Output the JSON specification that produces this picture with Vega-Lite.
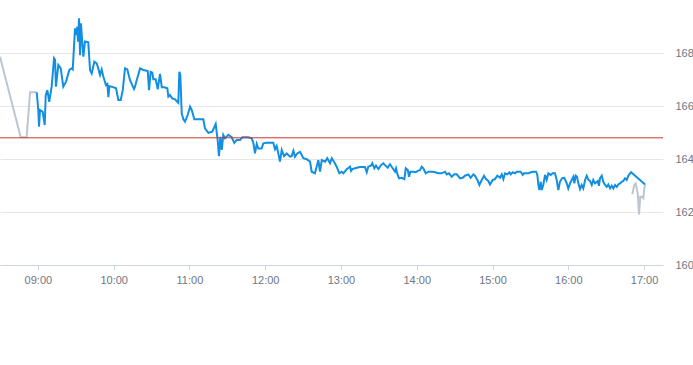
{
  "$schema": "https://vega.github.io/schema/vega-lite/v6.json",
  "width": 663,
  "height": 265,
  "autosize": "none",
  "padding": {"left": 0, "top": 0, "right": 30, "bottom": 100},
  "config": {
    "view": {"stroke": null},
    "font": "Liberation Sans",
    "axis": {"labelFont": "Liberation Sans", "labelFontSize": 11, "labelColor": "#6e7681", "title": null}
  },
  "datasets": {
    "pre": [
      {"m":510,"v":167.86},{"m":526.4,"v":164.82},{"m":531.1,"v":164.82},{"m":533.8,"v":166.52},{"m":539.1,"v":166.52}
    ],
    "post": [
      {"m":1010.7,"v":162.67},{"m":1012.3,"v":163.02},{"m":1013.4,"v":163.08},{"m":1015.0,"v":162.7},{"m":1016.0,"v":161.91},{"m":1017.0,"v":162.58},{"m":1018.2,"v":162.58},{"m":1019.4,"v":162.52},{"m":1020.2,"v":162.89},{"m":1020.8,"v":163.04}
    ],
    "main": [
      {"m":539.1,"v":166.52},{"m":540.3,"v":165.85},{"m":540.9,"v":165.22},{"m":541.7,"v":165.85},{"m":543.8,"v":165.78},{"m":545.4,"v":165.28},{"m":546.2,"v":166.41},{"m":547.5,"v":166.6},{"m":549.0,"v":166.16},{"m":550.9,"v":166.73},{"m":552.8,"v":167.8},{"m":553.6,"v":167.74},{"m":554.3,"v":166.73},{"m":556.2,"v":167.55},{"m":558.1,"v":167.42},{"m":560.1,"v":166.73},{"m":562.3,"v":166.92},{"m":564.9,"v":167.36},{"m":566.8,"v":167.42},{"m":567.6,"v":167.38},{"m":569.4,"v":168.93},{"m":570.2,"v":168.68},{"m":571.2,"v":168.99},{"m":571.8,"v":168.43},{"m":572.6,"v":169.31},{"m":573.4,"v":167.92},{"m":574.1,"v":169.12},{"m":575.2,"v":168.37},{"m":576.0,"v":167.86},{"m":577.3,"v":168.43},{"m":579.9,"v":168.4},{"m":581.3,"v":167.36},{"m":582.6,"v":167.23},{"m":584.7,"v":167.67},{"m":586.6,"v":167.61},{"m":587.8,"v":167.42},{"m":589.2,"v":167.17},{"m":590.5,"v":167.38},{"m":591.8,"v":167.11},{"m":593.9,"v":166.79},{"m":595.0,"v":166.83},{"m":595.8,"v":166.33},{"m":596.6,"v":166.75},{"m":598.5,"v":166.73},{"m":601.9,"v":166.67},{"m":603.7,"v":166.23},{"m":605.6,"v":166.23},{"m":607.2,"v":166.6},{"m":609.0,"v":167.42},{"m":610.8,"v":167.38},{"m":612.9,"v":166.98},{"m":616.1,"v":166.64},{"m":616.9,"v":166.73},{"m":618.3,"v":166.98},{"m":620.9,"v":167.42},{"m":623.5,"v":167.36},{"m":627.0,"v":167.32},{"m":628.0,"v":166.6},{"m":629.3,"v":167.29},{"m":630.6,"v":167.26},{"m":631.4,"v":167.01},{"m":633.3,"v":167.01},{"m":634.9,"v":166.63},{"m":636.7,"v":167.21},{"m":638.1,"v":166.71},{"m":640.1,"v":166.71},{"m":642.5,"v":166.67},{"m":643.3,"v":166.35},{"m":644.6,"v":166.41},{"m":646.4,"v":166.29},{"m":648.6,"v":166.25},{"m":650.4,"v":166.16},{"m":651.2,"v":166.12},{"m":652.0,"v":167.29},{"m":652.8,"v":167.17},{"m":653.9,"v":165.72},{"m":655.2,"v":165.5},{"m":656.5,"v":165.41},{"m":658.6,"v":165.66},{"m":660.5,"v":165.97},{"m":661.8,"v":165.85},{"m":663.9,"v":165.5},{"m":667.0,"v":165.5},{"m":671.0,"v":165.5},{"m":672.3,"v":165.16},{"m":675.0,"v":164.99},{"m":678.1,"v":165.03},{"m":680.8,"v":165.32},{"m":682.4,"v":164.69},{"m":683.4,"v":164.11},{"m":684.5,"v":164.84},{"m":685.6,"v":164.34},{"m":686.8,"v":164.91},{"m":688.2,"v":164.78},{"m":690.8,"v":164.91},{"m":693.5,"v":164.82},{"m":695.5,"v":164.61},{"m":697.4,"v":164.72},{"m":700.1,"v":164.72},{"m":701.9,"v":164.82},{"m":704.0,"v":164.82},{"m":706.6,"v":164.82},{"m":709.3,"v":164.78},{"m":710.6,"v":164.61},{"m":711.9,"v":164.21},{"m":713.3,"v":164.57},{"m":714.5,"v":164.4},{"m":717.2,"v":164.4},{"m":718.5,"v":164.59},{"m":721.2,"v":164.61},{"m":726.4,"v":164.61},{"m":727.8,"v":164.37},{"m":729.1,"v":164.49},{"m":730.4,"v":164.21},{"m":731.7,"v":163.9},{"m":733.1,"v":164.34},{"m":734.9,"v":164.11},{"m":737.0,"v":164.21},{"m":739.7,"v":164.09},{"m":741.0,"v":164.11},{"m":742.3,"v":164.31},{"m":743.6,"v":164.09},{"m":745.4,"v":164.21},{"m":747.6,"v":164.27},{"m":748.9,"v":164.15},{"m":750.2,"v":164.03},{"m":752.9,"v":163.99},{"m":755.5,"v":163.9},{"m":756.8,"v":163.52},{"m":759.4,"v":163.46},{"m":762.1,"v":163.96},{"m":763.4,"v":163.52},{"m":764.8,"v":163.96},{"m":767.4,"v":163.9},{"m":769.2,"v":164.03},{"m":771.3,"v":163.84},{"m":772.7,"v":164.03},{"m":774.5,"v":163.9},{"m":776.6,"v":163.71},{"m":778.7,"v":163.46},{"m":780.6,"v":163.52},{"m":781.9,"v":163.46},{"m":784.5,"v":163.61},{"m":787.2,"v":163.71},{"m":788.0,"v":163.55},{"m":789.0,"v":163.62},{"m":792.5,"v":163.67},{"m":795.1,"v":163.7},{"m":799.0,"v":163.7},{"m":800.4,"v":163.5},{"m":801.6,"v":163.71},{"m":803.8,"v":163.75},{"m":804.8,"v":163.84},{"m":806.4,"v":163.65},{"m":807.7,"v":163.75},{"m":809.6,"v":163.62},{"m":811.7,"v":163.77},{"m":813.5,"v":163.84},{"m":814.9,"v":163.77},{"m":817.0,"v":163.67},{"m":818.8,"v":163.8},{"m":820.7,"v":163.67},{"m":822.8,"v":163.52},{"m":823.6,"v":163.65},{"m":824.9,"v":163.4},{"m":826.0,"v":163.27},{"m":828.1,"v":163.29},{"m":830.2,"v":163.24},{"m":831.3,"v":163.65},{"m":832.9,"v":163.58},{"m":833.9,"v":163.33},{"m":834.9,"v":163.52},{"m":837.3,"v":163.52},{"m":839.2,"v":163.5},{"m":840.8,"v":163.55},{"m":842.6,"v":163.58},{"m":843.9,"v":163.71},{"m":845.2,"v":163.65},{"m":847.1,"v":163.46},{"m":849.2,"v":163.52},{"m":852.3,"v":163.52},{"m":854.5,"v":163.5},{"m":857.1,"v":163.46},{"m":859.8,"v":163.46},{"m":862.4,"v":163.52},{"m":863.7,"v":163.42},{"m":865.6,"v":163.46},{"m":867.7,"v":163.33},{"m":869.8,"v":163.42},{"m":871.7,"v":163.42},{"m":874.3,"v":163.27},{"m":876.4,"v":163.29},{"m":878.2,"v":163.37},{"m":880.9,"v":163.42},{"m":882.7,"v":163.29},{"m":884.8,"v":163.42},{"m":886.1,"v":163.37},{"m":888.0,"v":163.21},{"m":889.6,"v":163.02},{"m":891.5,"v":163.21},{"m":893.3,"v":163.37},{"m":894.9,"v":163.24},{"m":896.7,"v":163.17},{"m":898.0,"v":163.04},{"m":900.2,"v":163.21},{"m":902.0,"v":163.24},{"m":903.8,"v":163.37},{"m":906.0,"v":163.29},{"m":907.3,"v":163.42},{"m":908.6,"v":163.24},{"m":909.9,"v":163.46},{"m":911.7,"v":163.42},{"m":913.3,"v":163.5},{"m":914.4,"v":163.42},{"m":916.0,"v":163.5},{"m":917.8,"v":163.46},{"m":919.2,"v":163.52},{"m":922.3,"v":163.52},{"m":923.9,"v":163.4},{"m":924.9,"v":163.46},{"m":928.4,"v":163.46},{"m":930.3,"v":163.5},{"m":932.3,"v":163.52},{"m":934.5,"v":163.52},{"m":935.5,"v":163.4},{"m":936.3,"v":163.02},{"m":937.1,"v":162.83},{"m":938.2,"v":163.14},{"m":939.0,"v":162.83},{"m":940.2,"v":163.02},{"m":941.6,"v":163.4},{"m":942.9,"v":163.21},{"m":944.2,"v":163.46},{"m":946.1,"v":163.4},{"m":947.7,"v":163.46},{"m":949.5,"v":163.46},{"m":950.8,"v":163.21},{"m":952.1,"v":162.83},{"m":953.4,"v":163.14},{"m":955.1,"v":163.28},{"m":956.9,"v":163.29},{"m":958.8,"v":163.08},{"m":960.0,"v":162.89},{"m":961.4,"v":163.08},{"m":962.7,"v":163.21},{"m":964.0,"v":163.33},{"m":964.8,"v":163.08},{"m":965.9,"v":163.37},{"m":966.9,"v":163.33},{"m":968.0,"v":163.08},{"m":969.3,"v":162.86},{"m":970.6,"v":163.02},{"m":971.9,"v":162.89},{"m":973.3,"v":163.21},{"m":974.6,"v":163.37},{"m":975.9,"v":163.21},{"m":977.2,"v":163.17},{"m":978.6,"v":163.02},{"m":979.8,"v":163.21},{"m":981.2,"v":163.08},{"m":983.3,"v":163.17},{"m":984.3,"v":162.99},{"m":985.1,"v":163.27},{"m":986.5,"v":163.37},{"m":987.7,"v":163.14},{"m":989.1,"v":163.02},{"m":990.4,"v":162.95},{"m":991.7,"v":163.04},{"m":993.1,"v":162.89},{"m":994.4,"v":162.99},{"m":995.7,"v":162.89},{"m":997.0,"v":163.02},{"m":998.4,"v":162.95},{"m":999.6,"v":163.04},{"m":1001.0,"v":163.08},{"m":1002.3,"v":163.14},{"m":1003.6,"v":163.17},{"m":1004.9,"v":163.27},{"m":1006.3,"v":163.21},{"m":1007.5,"v":163.37},{"m":1009.7,"v":163.5},{"m":1012.9,"v":163.37},{"m":1016.8,"v":163.21},{"m":1020.8,"v":163.04}
    ],
    "ref": [{"level": 164.8}]
  },
  "encoding": {
    "x": {
      "field": "m", "type": "quantitative",
      "scale": {"domain": [510, 1035], "nice": false, "zero": false},
      "axis": {
        "values": [540, 600, 660, 720, 780, 840, 900, 960, 1020],
        "labelExpr": "(datum.value < 600 ? '0' : '') + floor(datum.value / 60) + ':00'",
        "grid": false, "domainColor": "#ccd6eb", "tickColor": "#ccd6eb", "tickSize": 5,
        "labelPadding": 4
      }
    },
    "y": {
      "field": "v", "type": "quantitative",
      "scale": {"domain": [160, 170], "nice": false, "zero": false},
      "axis": {
        "orient": "right", "values": [160, 162, 164, 166, 168],
        "domain": false, "ticks": false, "labelPadding": 12,
        "gridColor": "#e6e6e6", "labelAlign": "left"
      }
    }
  },
  "layer": [
    {"data": {"name": "pre"}, "mark": {"type": "line", "color": "#bcc6cf", "strokeWidth": 2, "clip": true}},
    {"data": {"name": "post"}, "mark": {"type": "line", "color": "#bcc6cf", "strokeWidth": 2, "clip": true}},
    {"data": {"name": "main"}, "mark": {"type": "line", "color": "#128fe3", "strokeWidth": 2, "clip": true}},
    {"data": {"name": "ref"}, "mark": {"type": "rule", "color": "#d0322b", "strokeWidth": 1},
     "encoding": {"y": {"field": "level", "type": "quantitative"}, "x": null}}
  ]
}
